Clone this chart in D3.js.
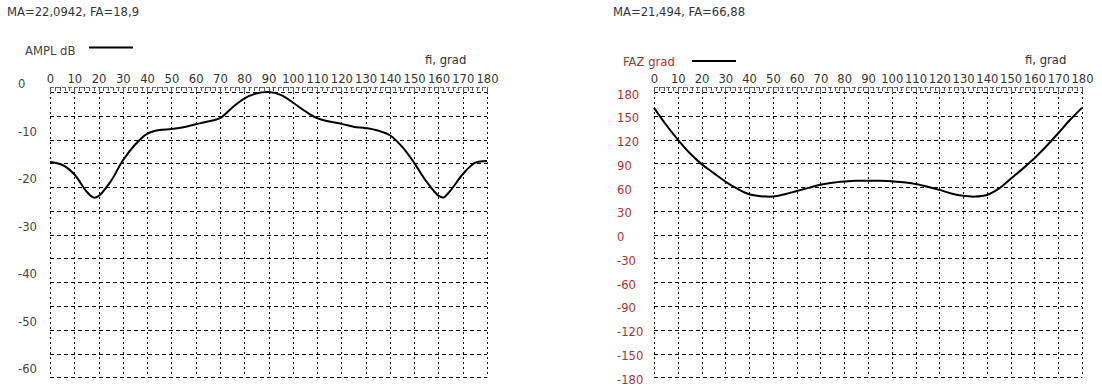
<!DOCTYPE html>
<html>
<head>
<meta charset="utf-8">
<script src="https://cdn.jsdelivr.net/npm/d3@7"></script>
<style>
  body { margin: 0; background: #fff; }
  svg text { font-family: "DejaVu Sans", Verdana, sans-serif; font-size: 11.6px; }
</style>
</head>
<body>
<svg id="chart" width="1102" height="387"></svg>
<script>
// angle ticks, shared by both panels
const fiTicks = d3.range(0, 181, 10);

// amplitude pattern, dB
const amplDeg = [0, 5, 10, 15, 18, 20, 25, 30, 35, 40, 45, 50, 55, 60, 65, 70, 75, 80, 85, 90,
                 95, 100, 105, 110, 115, 120, 125, 130, 135, 140, 145, 150, 155, 160, 162, 165, 170, 175, 180];
const amplVal = [-14.7, -15.3, -17.3, -20.9, -22.2, -21.9, -18.8, -14.4, -11.1, -8.8, -8.0, -7.8, -7.4, -6.8, -6.2, -5.5, -3.3, -1.4, -0.3, 0,
                 -0.6, -2.2, -4.0, -5.5, -6.2, -6.7, -7.3, -7.6, -8.1, -9.1, -11.5, -14.9, -18.8, -21.8, -22.2, -20.7, -17.3, -14.9, -14.5];
const amplTicks = [0, -10, -20, -30, -40, -50, -60];
const amplGrid = d3.range(0, -61, -5);

// phase pattern, grad
const fazDeg = [0, 5, 10, 15, 20, 25, 30, 35, 40, 45, 50, 55, 60, 65, 70, 75, 80, 85, 90,
                95, 100, 105, 110, 115, 120, 125, 130, 135, 140, 145, 150, 155, 160, 165, 170, 175, 180];
const fazVal = [160, 139, 120, 103, 89, 78, 67, 58, 51, 48.5, 48, 51, 55, 59, 63, 65.5, 67, 68, 68,
                68, 67.5, 66, 64, 60.5, 56.5, 52, 49, 48, 50, 58, 70.5, 83, 96.5, 111.5, 128, 145, 160];
const fazTicks = [180, 150, 120, 90, 60, 30, 0, -30, -60, -90, -120, -150, -180];

const svg = d3.select('#chart');

function panel(cfg) {
    let g = svg.append('g');
    let x = d3.scaleLinear().domain([0, 180]).range([cfg.x0, cfg.x1]);
    let y = d3.scaleLinear().domain(cfg.yDomain).range([92, 377.3]);

    g.append('text').attr('x', cfg.titleX).attr('y', 16).attr('fill', '#333').text(cfg.title);

    // legend
    g.append('text').attr('x', cfg.legX).attr('y', cfg.legY).attr('fill', cfg.labelColor).text(cfg.legend);
    g.append('line')
        .attr('x1', cfg.legLine[0]).attr('x2', cfg.legLine[1])
        .attr('y1', cfg.legLine[2]).attr('y2', cfg.legLine[2])
        .attr('stroke', '#000').attr('stroke-width', 2);

    g.append('text').attr('x', cfg.fiX).attr('y', 64).attr('fill', '#333').text('fi, grad');

    // grid
    g.selectAll('.hg').data(cfg.grid).enter().append('line')
        .attr('x1', x(0)).attr('x2', x(180))
        .attr('y1', d => Math.round(y(d)) + 0.5).attr('y2', d => Math.round(y(d)) + 0.5)
        .attr('stroke', '#000').attr('stroke-dasharray', '4,3');
    g.selectAll('.vg').data(fiTicks).enter().append('line')
        .attr('x1', d => Math.round(x(d)) + 0.5).attr('x2', d => Math.round(x(d)) + 0.5)
        .attr('y1', y.range()[0]).attr('y2', y.range()[1])
        .attr('stroke', '#000').attr('stroke-dasharray', '2,3');

    // minor ticks along the top edge
    g.selectAll('.mt').data(d3.range(0, 181, 2)).enter().append('line')
        .attr('x1', d => Math.round(x(d)) + 0.5).attr('x2', d => Math.round(x(d)) + 0.5)
        .attr('y1', 87).attr('y2', d => d % 10 == 0 ? 93 : 91)
        .attr('stroke', '#555');
    g.append('line').attr('x1', x(0)).attr('x2', x(180)).attr('y1', 87.5).attr('y2', 87.5)
        .attr('stroke', '#666').attr('stroke-dasharray', '4,2');

    // x labels
    let ax = g.append('g').attr('transform', 'translate(0,83)')
        .call(d3.axisTop(x).tickValues(fiTicks).tickSize(0).tickPadding(0));
    ax.select('.domain').remove();
    ax.attr('font-family', null).attr('font-size', null);
    ax.selectAll('text').attr('fill', '#333');

    // y labels
    g.selectAll('.yl').data(cfg.yTicks).enter().append('text')
        .attr('x', cfg.yLabX)
        .attr('y', d => y(d) + cfg.yLabDy)
        .attr('fill', cfg.labelColor)
        .text(d => d);

    let line = d3.line()
        .x((d, i) => x(cfg.xs[i]))
        .y(d => y(d))
        .curve(d3.curveCatmullRom);
    g.append('path').attr('d', line(cfg.ys))
        .attr('fill', 'none').attr('stroke', '#000').attr('stroke-width', 2);
}

panel({
    title: 'MA=22,0942, FA=18,9', titleX: 7,
    legend: 'AMPL dB', legX: 25, legY: 55, legLine: [89, 133, 47.5],
    fiX: 425, x0: 50, x1: 487,
    yDomain: [0, -60], grid: amplGrid, yTicks: amplTicks,
    yLabX: 18, yLabDy: -4, labelColor: '#444',
    xs: amplDeg, ys: amplVal
});

panel({
    title: 'MA=21,494, FA=66,88', titleX: 613,
    legend: 'FAZ grad', legX: 623, legY: 66, legLine: [692, 736, 61],
    fiX: 1025, x0: 654, x1: 1082,
    yDomain: [180, -180], grid: fazTicks, yTicks: fazTicks,
    yLabX: 617, yLabDy: 6.5, labelColor: '#b03030',
    xs: fazDeg, ys: fazVal
});
</script>
</body>
</html>
